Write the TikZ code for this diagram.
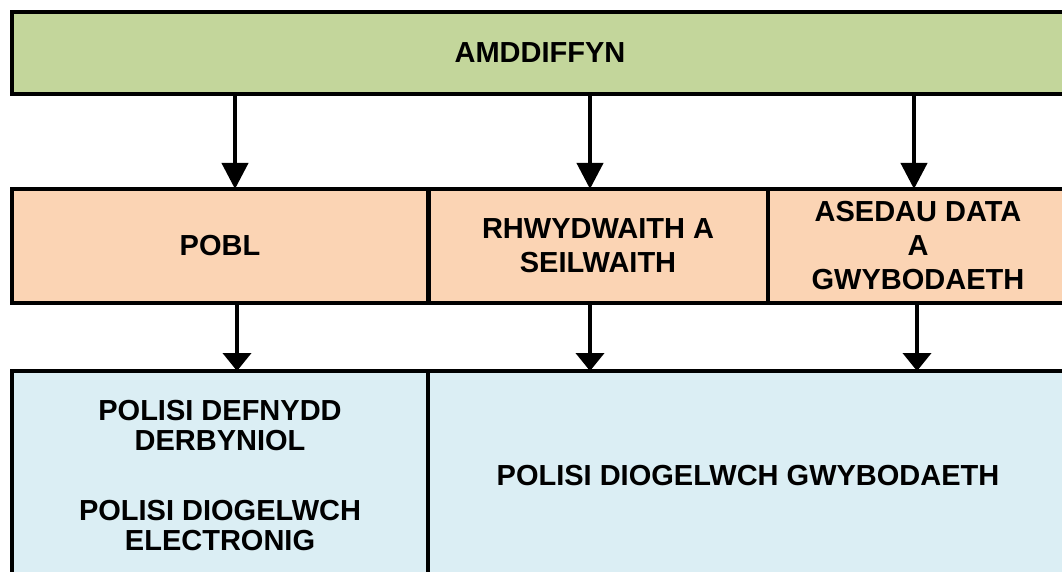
\documentclass[tikz,border=0pt]{standalone}
\usepackage{fontspec}
\setmainfont{Liberation Sans}
\usetikzlibrary{arrows.meta}
\definecolor{boxgreen}{HTML}{C3D69B}
\definecolor{boxpeach}{HTML}{FBD4B4}
\definecolor{boxblue}{HTML}{DBEEF4}
\tikzset{
  box/.style={draw=black, line width=4pt, rectangle, inner sep=0pt, outer sep=0pt,
    font=\fontsize{29}{34}\selectfont\bfseries, align=center, text=black},
  arrA/.style={line width=4pt, -{Triangle[width=26pt,length=26pt]}},
  arrB/.style={line width=4pt, -{Triangle[width=28pt,length=18pt]}},
}
\begin{document}
\begin{tikzpicture}[x=1pt,y=-1pt]
\clip (0,0) rectangle (1062,572);
\fill[white] (0,0) rectangle (1062,572);
% top box
\node[box, fill=boxgreen, minimum width=1056pt, minimum height=82pt] (top) at (540,53) {AMDDIFFYN};
% middle row
\node[box, fill=boxpeach, minimum width=416pt, minimum height=114pt] (pobl) at (220,246) {POBL};
\node[box, fill=boxpeach, minimum width=339pt, minimum height=114pt] (rhwyd) at (598,246) {RHWYDWAITH A\\SEILWAITH};
\node[box, fill=boxpeach, minimum width=300pt, minimum height=114pt] (asedau) at (918,246) {ASEDAU DATA\\A\\GWYBODAETH};
% bottom row
\node[box, fill=boxblue, minimum width=416pt, minimum height=210pt, font=\fontsize{29}{30}\selectfont\bfseries] (pol1) at (220,476) {POLISI DEFNYDD\\DERBYNIOL\\[40pt]POLISI DIOGELWCH\\ELECTRONIG};
\node[box, fill=boxblue, minimum width=640pt, minimum height=210pt] (pol2) at (748,476) {POLISI DIOGELWCH GWYBODAETH};
% arrows top -> middle
\draw[arrA] (top.south -| 235,0) -- (pobl.north -| 235,0);
\draw[arrA] (top.south -| 590,0) -- (rhwyd.north -| 590,0);
\draw[arrA] (top.south -| 914,0) -- (asedau.north -| 914,0);
% arrows middle -> bottom
\draw[arrB] (pobl.south -| 237,0) -- (pol1.north -| 237,0);
\draw[arrB] (rhwyd.south -| 590,0) -- (pol2.north -| 590,0);
\draw[arrB] (asedau.south -| 917,0) -- (pol2.north -| 917,0);
\end{tikzpicture}
\end{document}
